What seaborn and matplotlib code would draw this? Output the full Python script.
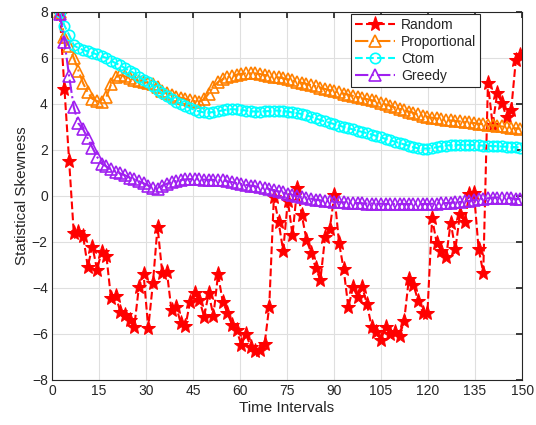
import matplotlib
matplotlib.use("Agg")
import matplotlib.pyplot as plt
import numpy as np
import pandas as pd
import seaborn as sns

# time axis: 100 samples across the 150 intervals
time_idx = np.linspace(2.5, 149.5, 100)

random_skew = [
    7.9, 4.64, 1.52, -1.62, -1.55, -1.74, -3.07, -2.2, -3.2, -2.42,
    -2.6, -4.45, -4.35, -5.03, -5.17, -5.4, -5.68, -3.94, -3.4, -5.75,
    -3.8, -1.33, -3.33, -3.29, -4.98, -4.81, -5.54, -5.65, -4.59, -4.2,
    -4.52, -5.25, -4.23, -5.22, -3.41, -4.59, -5.07, -5.6, -5.83, -6.48,
    -6.0, -6.55, -6.74, -6.7, -6.45, -4.81, -0.05, -1.12, -2.38, -0.2,
    -1.7, 0.33, -0.83, -1.91, -2.46, -3.14, -3.65, -1.8, -1.45, 0.04,
    -2.03, -3.19, -4.84, -3.97, -4.38, -3.97, -4.7, -5.68, -5.9, -6.26,
    -5.68, -6.0, -5.9, -6.09, -5.42, -3.62, -3.87, -4.55, -5.07, -5.07,
    -0.97, -2.06, -2.38, -2.67, -1.16, -2.32, -0.78, -1.12, 0.09, 0.14,
    -2.32, -3.33, 4.9, 3.1, 4.46, 4.06, 3.42, 3.74, 5.91, 6.13,
]

proportional_skew = [
    8.0, 6.9, 6.5, 6.0, 5.45, 4.9, 4.5, 4.22, 4.12, 4.1,
    4.3, 4.85, 5.15, 5.25, 5.2, 5.12, 5.05, 5.0, 4.97, 4.93,
    4.85, 4.72, 4.58, 4.47, 4.38, 4.32, 4.27, 4.22, 4.17, 4.12,
    4.1, 4.2, 4.45, 4.75, 4.95, 5.08, 5.16, 5.22, 5.27, 5.31,
    5.33, 5.33, 5.33, 5.3, 5.26, 5.22, 5.19, 5.15, 5.12, 5.07,
    5.02, 4.97, 4.92, 4.87, 4.82, 4.77, 4.71, 4.65, 4.6, 4.56,
    4.5, 4.45, 4.4, 4.35, 4.3, 4.25, 4.21, 4.16, 4.11, 4.05,
    3.98, 3.92, 3.85, 3.79, 3.73, 3.67, 3.61, 3.55, 3.49, 3.44,
    3.4, 3.37, 3.34, 3.31, 3.28, 3.26, 3.24, 3.22, 3.2, 3.17,
    3.14, 3.12, 3.1, 3.08, 3.05, 3.02, 3.0, 2.97, 2.94, 2.91,
]

ctom_skew = [
    8.0, 7.4, 7.0, 6.55, 6.42, 6.35, 6.28, 6.22, 6.15, 6.07,
    6.0, 5.88, 5.77, 5.68, 5.55, 5.45, 5.33, 5.18, 5.05, 4.95,
    4.78, 4.62, 4.47, 4.33, 4.2, 4.1, 4.0, 3.9, 3.82, 3.74,
    3.67, 3.63, 3.62, 3.65, 3.68, 3.72, 3.76, 3.77, 3.76, 3.74,
    3.71, 3.68, 3.67, 3.67, 3.68, 3.69, 3.71, 3.71, 3.7, 3.66,
    3.63, 3.6, 3.56, 3.5, 3.44, 3.37, 3.3, 3.24, 3.18, 3.12,
    3.06, 3.0, 2.95, 2.89, 2.83, 2.78, 2.73, 2.67, 2.61, 2.55,
    2.48, 2.42, 2.36, 2.3, 2.24, 2.18, 2.12, 2.07, 2.06, 2.06,
    2.08, 2.12, 2.16, 2.19, 2.21, 2.22, 2.22, 2.22, 2.22, 2.21,
    2.2, 2.19, 2.18, 2.17, 2.16, 2.15, 2.14, 2.13, 2.12, 2.1,
]

greedy_skew = [
    7.9, 6.7, 5.2, 3.85, 3.15, 2.9, 2.5, 2.1, 1.7, 1.4,
    1.28, 1.15, 1.05, 0.98, 0.9, 0.8, 0.72, 0.64, 0.55, 0.45,
    0.36, 0.32, 0.45, 0.53, 0.6, 0.65, 0.69, 0.72, 0.73, 0.73,
    0.72, 0.71, 0.7, 0.7, 0.7, 0.68, 0.64, 0.6, 0.56, 0.52,
    0.48, 0.45, 0.42, 0.38, 0.34, 0.3, 0.25, 0.2, 0.15, 0.1,
    0.05, 0.0, -0.04, -0.08, -0.12, -0.16, -0.19, -0.21, -0.23, -0.25,
    -0.27, -0.28, -0.29, -0.3, -0.31, -0.32, -0.33, -0.33, -0.34, -0.34,
    -0.35, -0.35, -0.35, -0.35, -0.35, -0.35, -0.35, -0.35, -0.35, -0.35,
    -0.34, -0.33, -0.32, -0.31, -0.3, -0.28, -0.26, -0.24, -0.21, -0.18,
    -0.15, -0.12, -0.1, -0.08, -0.07, -0.07, -0.08, -0.1, -0.12, -0.15,
]

sns.set_theme(style="whitegrid")
plt.rcParams["font.family"] = ["Liberation Sans", "DejaVu Sans"]

fig = plt.figure(figsize=(5.36, 4.25), dpi=100)
ax = fig.add_axes([0.097, 0.106, 0.877, 0.866])

orange = "#FF8000"
cyan = "#00FFFF"
purple = "#A020F0"

sns.lineplot(x=time_idx, y=random_skew, ax=ax, color="red", linestyle="--",
             linewidth=1.5, marker="*", markersize=11, markerfacecolor="red",
             markeredgecolor="red", label="Random")
sns.lineplot(x=time_idx, y=proportional_skew, ax=ax, color=orange, linestyle="-.",
             linewidth=1.5, marker="^", markersize=8, markerfacecolor="none",
             markeredgecolor=orange, markeredgewidth=1.2, label="Proportional")
sns.lineplot(x=time_idx, y=ctom_skew, ax=ax, color=cyan, linestyle="--",
             linewidth=1.5, marker="o", markersize=7.5, markerfacecolor="none",
             markeredgecolor=cyan, markeredgewidth=1.2, label="Ctom")
sns.lineplot(x=time_idx, y=greedy_skew, ax=ax, color=purple, linestyle="-.",
             linewidth=1.5, marker="^", markersize=8, markerfacecolor="none",
             markeredgecolor=purple, markeredgewidth=1.2, label="Greedy")

ax.set_xlim(0, 150)
ax.set_ylim(-8, 8)
ax.set_xticks(np.arange(0, 151, 15))
ax.set_yticks(np.arange(-8, 9, 2))
ax.set_xlabel("Time Intervals", fontsize=11, color="#262626", labelpad=2)
ax.set_ylabel("Statistical Skewness", fontsize=11, color="#262626", labelpad=2)
ax.tick_params(axis="both", labelsize=10, colors="#262626", direction="in",
               length=4, top=True, right=True, pad=3)
ax.grid(True, color="#DFDFDF", linewidth=0.8)
ax.set_facecolor("white")
for side in ax.spines.values():
    side.set_color("#262626")
    side.set_linewidth(0.8)

leg = ax.legend(loc="upper right", bbox_to_anchor=(0.911, 0.995), fontsize=10,
                frameon=True, fancybox=False, borderaxespad=0, handlelength=2.9,
                handletextpad=0.4, labelspacing=0.22, borderpad=0.3)
leg.get_frame().set_edgecolor("#262626")
leg.get_frame().set_linewidth(0.8)
leg.get_frame().set_alpha(1)

fig.savefig("out.png", dpi=100)
